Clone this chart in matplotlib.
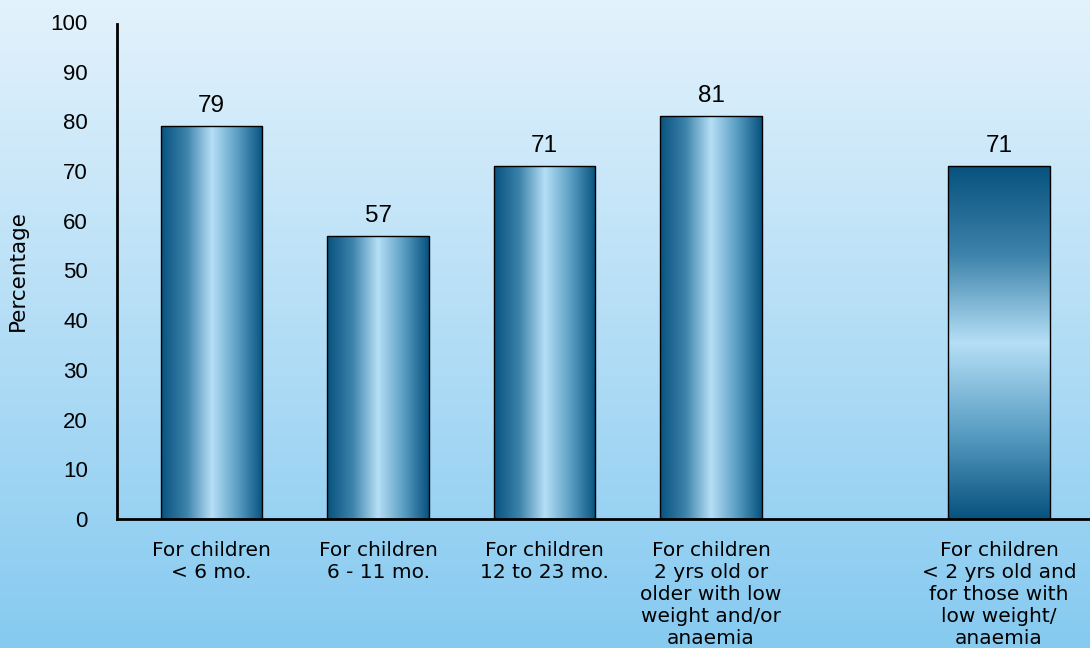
import numpy as np
import matplotlib
matplotlib.use("Agg")
from matplotlib import pyplot as plt
from matplotlib.colors import LinearSegmentedColormap
from matplotlib.patches import Rectangle

plt.rcParams['font.family'] = ['Liberation Sans', 'DejaVu Sans']

# 数据
categories = ["For children\n< 6 mo.",
              "For children\n6 - 11 mo.",
              "For children\n12 to 23 mo.",
              "For children\n2 yrs old or\nolder with low\nweight and/or\nanaemia",
              "For children\n< 2 yrs old and\nfor those with\nlow weight/\nanaemia"]
values = [79, 57, 71, 81, 71]
positions = [0, 1, 2, 3, 4.73]
bar_width = 0.61

fig = plt.figure(figsize=(10.9, 6.48), dpi=100)

# 背景渐变
bg = fig.add_axes([0, 0, 1, 1], zorder=-1)
bg_cmap = LinearSegmentedColormap.from_list("bg", ["#e3f2fc", "#86caf0"])
bg.imshow(np.linspace(0, 1, 256).reshape(-1, 1), aspect='auto', cmap=bg_cmap,
          extent=[0, 1, 0, 1], origin='upper')
bg.axis('off')

ax = fig.add_axes([117 / 1090, 129 / 648, 1 - 117 / 1090, 497 / 648])
ax.set_facecolor('none')

bar_cmap = LinearSegmentedColormap.from_list(
    "bar", ["#07527f", "#3d83ab", "#b6dff6", "#5b9fc4", "#07527f"])

grad = np.linspace(0, 1, 256)
for i, (p, v) in enumerate(zip(positions, values)):
    x0 = p - bar_width / 2
    rect = Rectangle((x0, 0), bar_width, v, facecolor='none',
                     edgecolor='black', linewidth=1.0, zorder=3)
    ax.add_patch(rect)
    # 前四个横向渐变，最后一个纵向渐变
    if i < 4:
        img = grad.reshape(1, -1)
    else:
        img = grad.reshape(-1, 1)
    im = ax.imshow(img, aspect='auto', cmap=bar_cmap,
                   extent=[x0, x0 + bar_width, 0, v], zorder=2)
    im.set_clip_path(rect)
    ax.text(p, v + 1.8, str(v), ha='center', va='bottom', fontsize=17.5)

ax.set_xlim(-0.568, 5.276)
ax.set_ylim(0, 100)
ax.set_yticks(range(0, 101, 10))
ax.set_xticks(positions)
ax.set_xticklabels(categories, fontsize=14.5, linespacing=1.2, va='top',
                   family='DejaVu Sans')
ax.tick_params(axis='y', length=0, pad=21, labelsize=16)
ax.tick_params(axis='x', length=0, pad=16)
ax.set_ylabel('Percentage', fontsize=15.5, labelpad=16, family='DejaVu Sans')

ax.spines['top'].set_visible(False)
ax.spines['right'].set_visible(False)
ax.spines['left'].set_linewidth(2)
ax.spines['bottom'].set_linewidth(2)
ax.spines['left'].set_bounds(0, 99.5)

fig.savefig('out.png', dpi=100)
